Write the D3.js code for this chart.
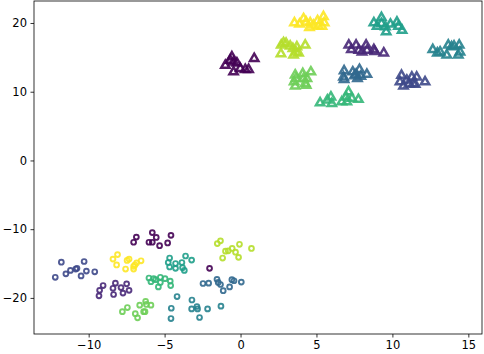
<!DOCTYPE html>
<html>
<head>
<meta charset="utf-8">
<script src="https://cdn.jsdelivr.net/npm/d3@7"></script>
<style>
  body { margin: 0; background: #fff; }
  text { font-family: "DejaVu Sans", sans-serif; }
</style>
</head>
<body>
<svg width="484" height="354"></svg>
<script>
// class index 0..9, coloured with viridis
const xTicks = [-10, -5, 0, 5, 10, 15]
const yTicks = [-20, -10, 0, 10, 20]

// triangles: [x, y, class]
const triangles = [
  [-0.57, 15.15, 0], [-0.68, 14.65, 0], [-0.46, 14.4, 0], [-0.24, 14.25, 0], [-1.0, 13.9, 0],
  [-0.46, 12.95, 0], [-0.02, 13.45, 0], [0.31, 13.3, 0], [0.53, 13.3, 0], [0.9, 14.9, 0],
  [7.13, 16.85, 1], [7.3, 16.2, 1], [7.61, 16.85, 1], [7.79, 16.1, 1], [8.0, 15.85, 1],
  [8.27, 16.85, 1], [8.33, 16.1, 1], [8.78, 16.2, 1], [8.84, 15.9, 1], [9.43, 15.7, 1],
  [10.6, 12.45, 2], [10.5, 11.5, 2], [10.73, 10.9, 2], [10.95, 11.75, 2], [11.28, 12.2, 2],
  [11.38, 11.25, 2], [11.6, 12.2, 2], [11.5, 11.15, 2], [12.15, 11.5, 2], [11.1, 11.2, 2],
  [6.82, 13.1, 3], [6.78, 12.2, 3], [6.82, 11.85, 3], [7.39, 12.95, 3], [7.61, 12.6, 3],
  [7.83, 13.3, 3], [7.92, 12.3, 3], [7.7, 12.0, 3], [8.32, 12.6, 3], [7.5, 12.4, 3],
  [12.66, 16.2, 4], [12.96, 15.7, 4], [13.14, 15.85, 4], [13.58, 15.4, 4], [13.68, 16.85, 4],
  [14.06, 16.7, 4], [14.4, 16.85, 4], [14.45, 15.85, 4], [14.34, 15.4, 4], [13.9, 16.6, 4],
  [8.78, 20.1, 5], [8.99, 19.6, 5], [9.28, 20.85, 5], [9.28, 20.0, 5], [9.54, 19.5, 5],
  [9.59, 18.8, 5], [9.87, 19.9, 5], [10.3, 20.2, 5], [10.4, 19.6, 5], [10.64, 19.0, 5],
  [5.24, 8.45, 6], [5.72, 8.85, 6], [5.95, 9.3, 6], [6.01, 8.35, 6], [6.67, 8.6, 6],
  [6.95, 9.3, 6], [7.11, 10.05, 6], [7.33, 9.1, 6], [7.76, 8.95, 6], [7.0, 8.6, 6],
  [3.6, 12.5, 7], [3.53, 11.5, 7], [3.6, 10.9, 7], [4.1, 12.7, 7], [4.15, 12.0, 7],
  [4.26, 11.25, 7], [4.63, 12.95, 7], [4.37, 12.0, 7], [4.32, 11.0, 7], [3.65, 12.0, 7],
  [2.68, 16.85, 8], [2.83, 17.2, 8], [3.0, 17.1, 8], [3.27, 16.7, 8], [3.45, 16.35, 8],
  [3.71, 16.6, 8], [3.66, 15.85, 8], [3.82, 15.7, 8], [3.49, 15.4, 8], [2.66, 15.6, 8],
  [4.26, 16.85, 8],
  [3.55, 20.1, 9], [3.88, 19.9, 9], [4.15, 20.7, 9], [4.32, 20.2, 9], [4.59, 20.1, 9],
  [4.54, 19.4, 9], [5.07, 20.4, 9], [5.13, 19.6, 9], [5.46, 21.0, 9], [5.51, 20.1, 9],
  [5.36, 19.6, 9], [4.8, 19.75, 9]
]

// circles: [x, y, class]
const circles = [
  [-6.86, -11.15, 0], [-7.04, -11.9, 0], [-5.81, -10.5, 0], [-5.55, -11.2, 0], [-6.03, -11.9, 0],
  [-5.81, -11.9, 0], [-5.33, -12.4, 0], [-4.8, -12.0, 0], [-4.58, -10.9, 0], [-2.04, -15.7, 0],
  [-9.05, -18.2, 1], [-9.28, -18.9, 1], [-9.32, -19.7, 1], [-8.24, -17.85, 1], [-8.4, -18.6, 1],
  [-7.87, -18.5, 1], [-7.5, -17.95, 1], [-7.34, -18.9, 1], [-7.74, -19.3, 1], [-8.36, -19.5, 1],
  [-12.2, -17.0, 2], [-11.8, -14.8, 2], [-11.5, -16.5, 2], [-11.2, -16.0, 2], [-10.85, -15.8, 2],
  [-10.77, -15.7, 2], [-10.5, -16.8, 2], [-10.3, -14.7, 2], [-10.15, -16.1, 2], [-9.6, -16.2, 2],
  [-2.47, -17.9, 3], [-2.1, -17.85, 3], [-1.55, -17.3, 3], [-1.47, -17.75, 3], [-1.32, -18.05, 3],
  [-1.14, -18.95, 3], [-0.72, -18.4, 3], [-0.57, -17.35, 3], [-0.43, -17.5, 3], [0.05, -17.7, 3],
  [-4.18, -19.8, 4], [-4.56, -21.5, 4], [-4.58, -23.0, 4], [-3.2, -20.3, 4], [-3.22, -21.6, 4],
  [-2.87, -21.25, 4], [-2.83, -21.6, 4], [-2.7, -22.85, 4], [-2.17, -21.6, 4], [-1.29, -21.2, 4],
  [-4.67, -14.2, 5], [-4.76, -14.85, 5], [-4.67, -15.5, 5], [-4.28, -15.0, 5], [-4.28, -15.7, 5],
  [-3.86, -14.85, 5], [-3.62, -13.9, 5], [-3.22, -14.5, 5], [-3.82, -15.6, 5], [-3.7, -16.0, 5],
  [-6.03, -17.1, 6], [-5.9, -17.65, 6], [-5.72, -17.2, 6], [-5.59, -17.35, 6], [-5.28, -17.0, 6],
  [-5.28, -17.75, 6], [-4.97, -17.2, 6], [-5.41, -18.4, 6], [-4.63, -17.55, 6], [-4.6, -18.2, 6],
  [-7.78, -22.0, 7], [-7.45, -21.4, 7], [-6.93, -22.3, 7], [-6.78, -22.9, 7], [-6.64, -21.05, 7],
  [-6.25, -20.5, 7], [-6.2, -20.95, 7], [-6.38, -22.0, 7], [-6.29, -22.0, 7], [-5.9, -21.05, 7],
  [-1.53, -12.1, 8], [-1.32, -11.7, 8], [-1.18, -14.2, 8], [-0.99, -13.2, 8], [-0.81, -13.15, 8],
  [-0.55, -12.8, 8], [-0.33, -13.35, 8], [-0.07, -12.2, 8], [-0.13, -14.1, 8], [0.72, -12.8, 8],
  [-8.4, -14.35, 9], [-8.1, -13.7, 9], [-8.16, -15.2, 9], [-7.47, -14.55, 9], [-7.34, -14.35, 9],
  [-7.57, -15.8, 9], [-7.04, -15.4, 9], [-6.95, -15.2, 9], [-6.84, -14.9, 9], [-6.55, -14.6, 9],
  [-7.04, -15.8, 9]
]

const svg = d3.select('svg')
const mLeft = 34, mRight = 482, mTop = 1, mBottom = 334

const x = d3.scaleLinear().domain([-13.6, 15.9]).range([mLeft, mRight])
const y = d3.scaleLinear().domain([-25.25, 23.2]).range([mBottom, mTop])
const color = c => d3.interpolateViridis(c / 9)

const plot = svg.append('g')

const tri = d3.symbol().type(d3.symbolTriangle).size(30)
plot.selectAll('path.tri')
  .data(triangles)
  .join('path')
    .attr('class', 'tri')
    .attr('d', tri)
    .attr('transform', d => `translate(${x(d[0])},${y(d[1]) + 0.5})`)
    .attr('fill', 'none')
    .attr('stroke', d => color(d[2]))
    .attr('stroke-width', 2.5)
    .attr('opacity', 0.9)

plot.selectAll('circle')
  .data(circles)
  .join('circle')
    .attr('cx', d => x(d[0]))
    .attr('cy', d => y(d[1]))
    .attr('r', 2.4)
    .attr('fill', 'none')
    .attr('stroke', d => color(d[2]))
    .attr('stroke-width', 1.9)
    .attr('opacity', 0.9)

// axes
const xAxis = svg.append('g')
  .attr('transform', `translate(0,${mBottom})`)
  .call(d3.axisBottom(x).tickValues(xTicks).tickSize(3.5).tickPadding(3.5))
const yAxis = svg.append('g')
  .attr('transform', `translate(${mLeft},0)`)
  .call(d3.axisLeft(y).tickValues(yTicks).tickSize(3.5).tickPadding(3.5))

for (const g of [xAxis, yAxis]) {
  g.select('.domain').remove()
  g.selectAll('text').attr('font-size', 11.5).attr('fill', '#000')
    .attr('font-family', '"DejaVu Sans", sans-serif')
  g.selectAll('line').attr('stroke', '#000').attr('stroke-width', 0.8)
}

svg.append('rect')
  .attr('x', mLeft).attr('y', mTop)
  .attr('width', mRight - mLeft).attr('height', mBottom - mTop)
  .attr('fill', 'none')
  .attr('stroke', '#000')
  .attr('stroke-width', 0.8)
</script>
</body>
</html>
